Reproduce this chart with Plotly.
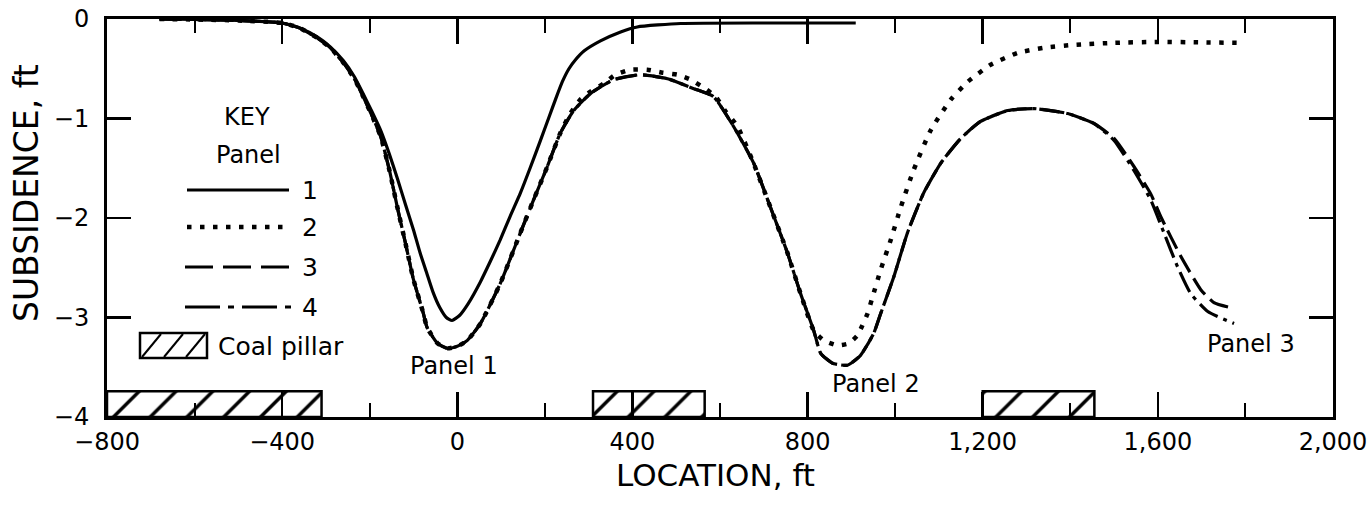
import plotly.graph_objects as go

# ---------------- data ----------------
# Panel 1 (solid)
x1 = [-680, -600, -500, -400, -360, -320, -290, -260, -235, -215, -195, -175, -155, -137, -118, -100, -85, -70, -55, -40,
      -25, -12, 5, 25, 53, 75, 98, 120, 144, 167, 190, 210, 225, 240, 255, 270, 290, 327, 373, 411, 510, 700, 910]
y1 = [0, -0.005, -0.015, -0.04, -0.09, -0.18, -0.28, -0.42, -0.58, -0.75, -0.93, -1.12, -1.36, -1.6, -1.87, -2.12, -2.35,
      -2.55, -2.75, -2.9, -3.0, -3.03, -2.98, -2.86, -2.64, -2.44, -2.22, -1.99, -1.75, -1.49, -1.22, -0.98, -0.8, -0.63,
      -0.5, -0.41, -0.32, -0.22, -0.13, -0.08, -0.045, -0.04, -0.04]

# Panel 2 (dotted)
x2 = [-680, -600, -500, -400, -360, -320, -290, -260, -235, -215, -195, -175, -155, -137, -118, -100, -78, -69, -45, -23,
      0, 23, 53, 98, 144, 174, 205, 235, 258, 281, 304, 334, 361, 395, 434, 469, 503, 533, 563, 590, 613, 640, 674, 715,
      754, 784, 814, 837, 868, 894, 914, 925, 937, 948, 967, 990, 1013, 1042, 1081, 1127, 1166, 1218, 1280, 1339, 1408,
      1499, 1600, 1700, 1797]
y2 = [0, -0.005, -0.015, -0.04, -0.09, -0.19, -0.29, -0.44, -0.6, -0.78, -0.97, -1.18, -1.52, -1.89, -2.26, -2.62, -2.95,
      -3.1, -3.26, -3.31, -3.29, -3.23, -3.06, -2.66, -2.15, -1.82, -1.49, -1.15, -0.95, -0.81, -0.73, -0.65, -0.56, -0.51,
      -0.51, -0.54, -0.56, -0.61, -0.69, -0.78, -0.93, -1.08, -1.42, -1.89, -2.35, -2.76, -3.13, -3.23, -3.28, -3.26,
      -3.18, -3.08, -2.96, -2.8, -2.52, -2.22, -1.89, -1.52, -1.12, -0.81, -0.63, -0.46, -0.34, -0.29, -0.26, -0.24,
      -0.23, -0.235, -0.24]

# Panel 4 (dash-dot)
x4 = [-680, -600, -500, -400, -360, -320, -290, -260, -235, -215, -195, -175, -155, -137, -118, -100, -78, -69, -45, -23,
      0, 23, 53, 98, 144, 174, 205, 235, 266, 304, 357, 418, 480, 540, 585, 631, 677, 715, 754, 784, 814, 830, 857, 891,
      921, 951, 967, 997, 1028, 1065, 1104, 1150, 1195, 1257, 1317, 1394, 1454, 1500, 1545, 1584, 1614, 1645, 1675, 1714,
      1774]
y4 = [0, -0.005, -0.015, -0.04, -0.09, -0.19, -0.29, -0.44, -0.6, -0.78, -0.97, -1.18, -1.52, -1.89, -2.26, -2.62, -2.95,
      -3.1, -3.26, -3.31, -3.29, -3.23, -3.06, -2.66, -2.15, -1.82, -1.49, -1.15, -0.92, -0.75, -0.61, -0.56, -0.6, -0.7,
      -0.78, -1.08, -1.45, -1.89, -2.35, -2.76, -3.13, -3.36, -3.46, -3.48, -3.38, -3.16, -2.96, -2.59, -2.15, -1.75,
      -1.45, -1.2, -1.03, -0.92, -0.9, -0.95, -1.05, -1.22, -1.52, -1.82, -2.15, -2.49, -2.76, -2.94, -3.06]

# Panel 3 (dashed)
x3 = [-680, -600, -500, -400, -360, -320, -290, -260, -235, -215, -195, -175, -155, -137, -118, -100, -78, -69, -45, -23,
      0, 23, 53, 98, 144, 174, 205, 235, 266, 304, 357, 418, 480, 540, 585, 631, 677, 715, 754, 784, 814, 830, 857, 891,
      921, 951, 967, 997, 1028, 1065, 1104, 1150, 1195, 1257, 1317, 1394, 1454, 1500, 1545, 1584, 1607, 1653, 1698, 1728,
      1774]
y3 = [0, -0.005, -0.015, -0.04, -0.09, -0.19, -0.29, -0.44, -0.6, -0.78, -0.97, -1.18, -1.52, -1.89, -2.26, -2.62, -2.95,
      -3.1, -3.26, -3.31, -3.29, -3.23, -3.06, -2.66, -2.15, -1.82, -1.49, -1.15, -0.92, -0.75, -0.61, -0.56, -0.6, -0.7,
      -0.78, -1.08, -1.45, -1.89, -2.35, -2.76, -3.13, -3.36, -3.46, -3.48, -3.38, -3.16, -2.96, -2.59, -2.15, -1.75,
      -1.45, -1.2, -1.03, -0.92, -0.9, -0.95, -1.05, -1.2, -1.48, -1.76, -1.99, -2.39, -2.72, -2.85, -2.91]

# Coal pillars (ft)
pillar_start = [-800, 310, 1200]
pillar_end = [-310, 565, 1455]
pillar_top = -3.74
y_bottom = -4.0

# Axis ticks
xtick_vals = [-800, -400, 0, 400, 800, 1200, 1600, 2000]
xtick_text = ["\u2212800", "\u2212400", "0", "400", "800", "1,200", "1,600", "2,000"]
ytick_vals = [0, -1, -2, -3, -4]
ytick_text = ["0", "\u22121", "\u22122", "\u22123", "\u22124"]

panel_labels = ["Panel 1", "Panel 2", "Panel 3"]
legend_names = ["1", "2", "3", "4"]

# ---------------- layout helpers ----------------
W, H = 1371, 523
ML, MT = 107, 19
MR = W - 1333
MB = H - 417
PW, PH = W - ML - MR, H - MT - MB
FONT = "DejaVu Sans"


def pp(xp, yp):
    """screen pixel -> paper coordinates"""
    return (xp - ML) / PW, (H - MB - yp) / PH


fig = go.Figure()

# coal pillars as hatched bars
centers = [(a + b) / 2 for a, b in zip(pillar_start, pillar_end)]
widths = [b - a for a, b in zip(pillar_start, pillar_end)]
fig.add_trace(go.Bar(
    x=centers, y=[pillar_top - y_bottom] * len(centers), base=[y_bottom] * len(centers), width=widths,
    marker=dict(color="white", line=dict(color="black", width=2.5),
                pattern=dict(shape="/", fgcolor="black", fgopacity=1, bgcolor="white", size=26, solidity=0.13)),
    showlegend=False, hoverinfo="skip"))

line_w = 3.2
sm = 0.5
fig.add_trace(go.Scatter(x=x4, y=y4, mode="lines", line=dict(color="black", width=line_w, dash="22px,6px,4px,6px",
                                                             shape="spline", smoothing=sm), showlegend=False))
fig.add_trace(go.Scatter(x=x3, y=y3, mode="lines", line=dict(color="black", width=line_w, dash="20px,7px",
                                                             shape="spline", smoothing=sm), showlegend=False))
fig.add_trace(go.Scatter(x=x2, y=y2, mode="lines", line=dict(color="black", width=4.5, dash="4.5px,8.5px",
                                                             shape="spline", smoothing=sm), showlegend=False))
fig.add_trace(go.Scatter(x=x1, y=y1, mode="lines", line=dict(color="black", width=line_w,
                                                             shape="spline", smoothing=sm), showlegend=False))

shapes = []
annotations = []

# legend key
kx, ky = pp(247, 117)
annotations.append(dict(x=kx, y=ky, xref="paper", yref="paper", text="KEY", showarrow=False,
                        font=dict(family=FONT, size=24, color="black"), xanchor="center", yanchor="middle"))
kx, ky = pp(248, 155)
annotations.append(dict(x=kx, y=ky, xref="paper", yref="paper", text="Panel", showarrow=False,
                        font=dict(family=FONT, size=24, color="black"), xanchor="center", yanchor="middle"))

leg_rows = [(190, 187, 289, "solid", line_w), (227, 187, 289, "4.5px,8.5px", 4.5),
            (267, 185, 295, "28px,10px", line_w), (307, 185, 295, "35px,8px,6px,8px", line_w)]
for name, (yy, xa, xb, dash, lw) in zip(legend_names, leg_rows):
    x0, y0 = pp(xa, yy)
    x1p, _ = pp(xb, yy)
    shapes.append(dict(type="line", xref="paper", yref="paper", x0=x0, x1=x1p, y0=y0, y1=y0,
                       line=dict(color="black", width=lw, dash=dash)))
    lx, ly = pp(310, yy)
    annotations.append(dict(x=lx, y=ly, xref="paper", yref="paper", text=name, showarrow=False,
                            font=dict(family=FONT, size=25, color="black"), xanchor="center", yanchor="middle"))

# coal pillar key box
bx0, by0 = pp(140, 358)
bx1, by1 = pp(207, 333)
shapes.append(dict(type="rect", xref="paper", yref="paper", x0=bx0, x1=bx1, y0=by0, y1=by1,
                   line=dict(color="black", width=2.5), fillcolor="white"))
for k in (2, 24, 46):
    ax0, ay0 = pp(140 + k, 357)
    ax1, ay1 = pp(140 + k + 19, 334)
    shapes.append(dict(type="line", xref="paper", yref="paper", x0=ax0, x1=ax1, y0=ay0, y1=ay1,
                       line=dict(color="black", width=2)))
cx, cy = pp(216, 346)
annotations.append(dict(x=cx, y=cy, xref="paper", yref="paper", text="Coal pillar", showarrow=False,
                        font=dict(family=FONT, size=25, color="black"), xanchor="left", yanchor="middle"))

# panel labels (screen pixel positions)
for txt, (xp, yp) in zip(panel_labels, [(454, 366), (876, 384), (1251, 344)]):
    px_, py_ = pp(xp, yp)
    annotations.append(dict(x=px_, y=py_, xref="paper", yref="paper", text=txt, showarrow=False,
                            font=dict(family=FONT, size=24, color="black"), xanchor="center", yanchor="middle"))

# axis titles
tx, ty = pp(715, 475)
annotations.append(dict(x=tx, y=ty, xref="paper", yref="paper", text="LOCATION, ft", showarrow=False,
                        font=dict(family=FONT, size=31, color="black"), xanchor="center", yanchor="middle"))
tx, ty = pp(26, 193)
annotations.append(dict(x=tx, y=ty, xref="paper", yref="paper", text="SUBSIDENCE, ft", showarrow=False,
                        textangle=-90, font=dict(family=FONT, size=33, color="black"),
                        xanchor="center", yanchor="middle"))

fig.update_layout(
    width=W, height=H,
    margin=dict(l=ML, r=MR, t=MT, b=MB, pad=0, autoexpand=False),
    paper_bgcolor="white", plot_bgcolor="white",
    showlegend=False, barmode="overlay", hovermode=False,
    shapes=shapes, annotations=annotations,
    xaxis=dict(range=[-800, 2000], tickmode="array", tickvals=xtick_vals, ticktext=xtick_text,
               ticks="inside", ticklen=25, tickwidth=2.5, tickcolor="black",
               minor=dict(tickmode="linear", tick0=-800, dtick=200, ticks="inside", ticklen=14, tickwidth=2,
                          tickcolor="black", showgrid=False),
               showline=True, linewidth=3, linecolor="black", mirror="allticks",
               showgrid=False, zeroline=False, automargin=False, ticklabeloverflow="allow",
               tickfont=dict(family=FONT, size=24, color="black"), ticklabelstandoff=1),
    yaxis=dict(range=[-4, 0], tickmode="array", tickvals=ytick_vals, ticktext=ytick_text,
               ticks="inside", ticklen=24, tickwidth=2.5, tickcolor="black",
               showline=True, linewidth=3, linecolor="black", mirror="allticks",
               showgrid=False, zeroline=False, automargin=False, ticklabeloverflow="allow",
               tickfont=dict(family=FONT, size=24, color="black"), ticklabelstandoff=10),
)

fig.write_html("out.html", config={"displayModeBar": False, "staticPlot": True},
               post_script="document.body.style.margin='0';document.body.style.overflow='hidden';")
